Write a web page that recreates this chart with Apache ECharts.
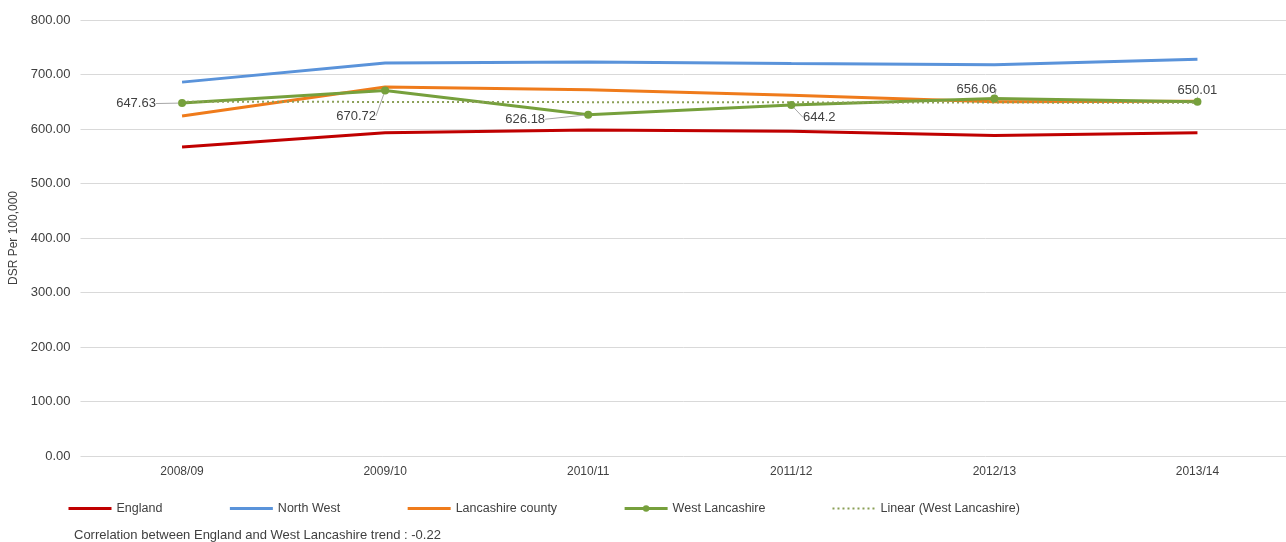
<!DOCTYPE html>
<html>
<head>
<meta charset="utf-8">
<title>DSR per 100,000</title>
<script src="https://cdn.jsdelivr.net/npm/echarts@6/dist/echarts.min.js"></script>
<style>
  html, body { margin: 0; padding: 0; background: #fff; }
  #chart { width: 1286px; height: 542px; }
</style>
</head>
<body>
<div id="chart"></div>
<script>
// Financial years on the category axis
const years = ['2008/09', '2009/10', '2010/11', '2011/12', '2012/13', '2013/14'];

// Directly standardised rate per 100,000
const england = [567, 593, 598, 596, 588, 593];
const northWest = [686, 721, 723, 720, 718, 728];
const lancashireCounty = [624, 677, 672, 662, 650, 651];
const westLancashire = [647.63, 670.72, 626.18, 644.2, 656.06, 650.01];

// Linear trend of West Lancashire: start and end of the fitted line
const westLancsTrend = [650.1, null, null, null, null, 648.1];

const correlationNote = 'Correlation between England and West Lancashire trend : -0.22';

const FONT = "'Liberation Sans', Arial, sans-serif";
const TEXT = '#404040';

// Where each West Lancashire value label sits relative to its point
const labelShift = [
  { dx: -46, dy: 16 },
  { dx: -29, dy: 41 },
  { dx: -63, dy: 20 },
  { dx: 28, dy: 28 },
  { dx: -18, dy: 6 },
  { dx: 0, dy: 4 }
];

const chart = echarts.init(document.getElementById('chart'), null, { renderer: 'canvas' });

const lineSeries = (name, data, color) => ({
  name,
  type: 'line',
  data,
  symbol: 'none',
  showSymbol: false,
  lineStyle: { color, width: 3 },
  itemStyle: { color },
  emphasis: { disabled: true },
  animation: false
});

// Legend entries: plain lines hide the default marker
const plainLegend = name => ({ name, itemStyle: { opacity: 0 }, lineStyle: { width: 3 } });

chart.setOption({
  animation: false,
  textStyle: { fontFamily: FONT },
  grid: {
    left: 80.5, right: -13, top: 20, bottom: 86,
    containLabel: false,
    outerBoundsMode: 'none'
  },
  xAxis: {
    type: 'category',
    data: years,
    boundaryGap: true,
    axisLine: { show: false },
    axisTick: { show: false },
    axisLabel: { color: TEXT, fontSize: 12, fontFamily: FONT, margin: 10 }
  },
  yAxis: {
    type: 'value',
    min: 0,
    max: 800,
    interval: 100,
    name: 'DSR Per 100,000',
    nameLocation: 'middle',
    nameGap: 57,
    nameRotate: 90,
    nameTextStyle: { color: TEXT, fontSize: 12, fontFamily: FONT },
    axisLine: { show: false },
    axisTick: { show: false },
    axisLabel: {
      color: TEXT, fontSize: 13, fontFamily: FONT, margin: 10,
      formatter: v => v.toFixed(2)
    },
    splitLine: { lineStyle: { color: '#d9d9d9', width: 1 } }
  },
  legend: {
    left: 62,
    top: 497,
    itemWidth: 43,
    itemHeight: 8,
    itemGap: 66,
    textStyle: { color: TEXT, fontSize: 12.5, fontFamily: FONT },
    selectedMode: false,
    data: [
      plainLegend('England'),
      plainLegend('North West'),
      plainLegend('Lancashire county'),
      { name: 'West Lancashire', lineStyle: { width: 3 } },
      { name: 'Linear (West Lancashire)', itemStyle: { opacity: 0 } }
    ]
  },
  graphic: [{
    type: 'text',
    left: 74,
    top: 529,
    style: { text: correlationNote, fill: TEXT, font: '13px ' + FONT }
  }],
  series: [
    lineSeries('England', england, '#c00000'),
    lineSeries('North West', northWest, '#5a93da'),
    lineSeries('Lancashire county', lancashireCounty, '#ef7b1b'),
    {
      name: 'West Lancashire',
      type: 'line',
      data: westLancashire,
      symbol: 'circle',
      symbolSize: 8,
      lineStyle: { color: '#76a03c', width: 3 },
      itemStyle: { color: '#76a03c' },
      emphasis: { disabled: true },
      label: {
        show: true,
        position: 'top',
        color: TEXT,
        fontSize: 13,
        fontFamily: FONT,
        formatter: p => String(p.value)
      },
      labelLine: {
        show: true,
        lineStyle: { color: '#a6a6a6', width: 1 }
      },
      labelLayout: p => labelShift[p.dataIndex],
      animation: false
    },
    {
      name: 'Linear (West Lancashire)',
      type: 'line',
      data: westLancsTrend,
      connectNulls: true,
      symbol: 'none',
      showSymbol: false,
      lineStyle: { color: '#8a9f56', width: 2, type: [2, 3] },
      itemStyle: { color: '#8a9f56' },
      emphasis: { disabled: true },
      animation: false
    }
  ]
});
</script>
</body>
</html>
